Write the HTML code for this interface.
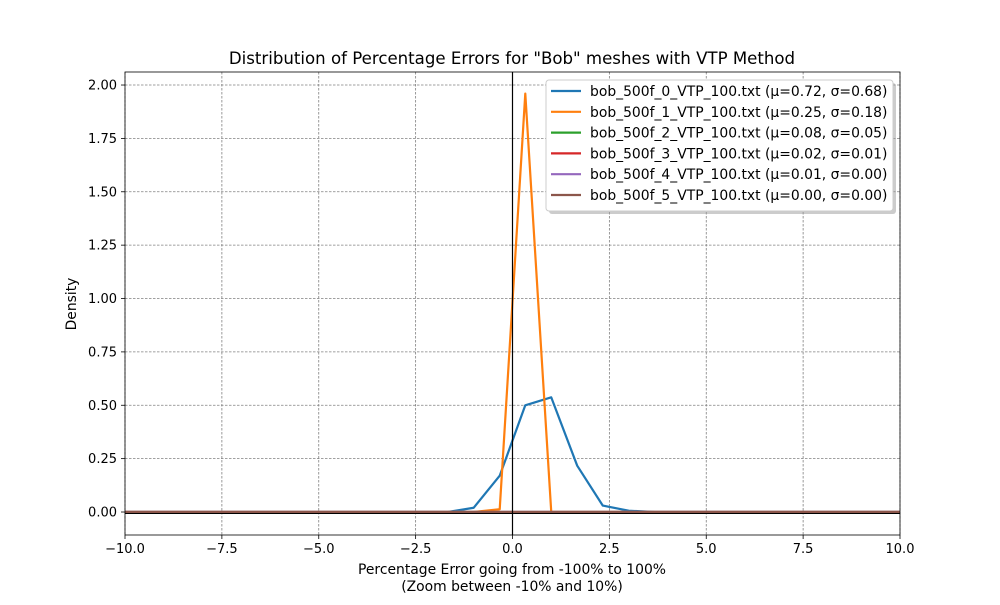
<!DOCTYPE html>
<html><head><meta charset="utf-8"><style>
body{margin:0;background:#fff;font-family:"Liberation Sans","DejaVu Sans",sans-serif;}
svg text{font-family:"DejaVu Sans","Liberation Sans",sans-serif;}
</style></head><body>
<svg id="c" width="1000" height="600" viewBox="0 0 1000 600" xmlns="http://www.w3.org/2000/svg"></svg>
<script>
const xs = [-10,-9.33,-8.67,-8,-7.33,-6.67,-6,-5.33,-4.67,-4,-3.33,-2.67,-2,-1.67,-1.0,-0.33,0.33,1.0,1.67,2.33,3.0,3.67,4.33,5,5.67,6.33,7,7.67,8.33,9,9.67,10];
const blueVals = [0,0,0,0,0,0,0,0,0,0,0,0,0,0,0.02,0.17,0.50,0.537,0.217,0.03,0.006,0,0,0,0,0,0,0,0,0,0,0];
const orangeX = [-10,-1.0,-0.33,0.33,1.0,10];
const orangeVals = [0,0,0.013,1.96,0,0];
const flatX = [-10,10];
const flatVals = [0,0];
const seriesNames = ["bob_500f_0_VTP_100.txt (μ=0.72, σ=0.68)","bob_500f_1_VTP_100.txt (μ=0.25, σ=0.18)","bob_500f_2_VTP_100.txt (μ=0.08, σ=0.05)","bob_500f_3_VTP_100.txt (μ=0.02, σ=0.01)","bob_500f_4_VTP_100.txt (μ=0.01, σ=0.00)","bob_500f_5_VTP_100.txt (μ=0.00, σ=0.00)"];
const colors = ["#1f77b4","#ff7f0e","#2ca02c","#d62728","#9467bd","#8c564b"];
const xTicks = [-10,-7.5,-5,-2.5,0,2.5,5,7.5,10];
const xTickLabels = ["−10.0","−7.5","−5.0","−2.5","0.0","2.5","5.0","7.5","10.0"];
const yTicks = [0,0.25,0.5,0.75,1,1.25,1.5,1.75,2];
const yTickLabels = ["0.00","0.25","0.50","0.75","1.00","1.25","1.50","1.75","2.00"];

const L=125,R=900,T=72,B=535, xmin=-10,xmax=10, ymin=-0.1077, ymax=2.061;
const X=v=>L+(v-xmin)/(xmax-xmin)*(R-L);
const Y=v=>B-(v-ymin)/(ymax-ymin)*(B-T);
const svg=document.getElementById('c');
const NS="http://www.w3.org/2000/svg";
function mk(tag,attrs,parent){const e=document.createElementNS(NS,tag);for(const k in attrs)e.setAttribute(k,attrs[k]);(parent||svg).appendChild(e);return e;}

xTicks.forEach((t,i)=>{
  const g=mk('line',{x1:X(t),x2:X(t),y1:T,y2:B,stroke:'#808080','stroke-width':0.8,'stroke-dasharray':'2.5,1.5'});
  
  
  mk('line',{x1:X(t),x2:X(t),y1:B,y2:B+4,stroke:'#000','stroke-width':0.8});
  const tx=mk('text',{x:X(t),y:B+18,'font-size':13,'text-anchor':'middle',fill:'#000'});
  tx.textContent=xTickLabels[i];
  
  
});
yTicks.forEach((t,i)=>{
  const g=mk('line',{x1:L,x2:R,y1:Y(t),y2:Y(t),stroke:'#808080','stroke-width':0.8,'stroke-dasharray':'2.5,1.5'});
  
  
  mk('line',{x1:L-4,x2:L,y1:Y(t),y2:Y(t),stroke:'#000','stroke-width':0.8});
  const tx=mk('text',{x:L-8,y:Y(t)+4.5,'font-size':13,'text-anchor':'end',fill:'#000'});
  tx.textContent=yTickLabels[i];
  
  
});

function line(xa,ya,color,name){
  const p=mk('polyline',{points:xa.map((x,i)=>X(x)+','+Y(ya[i])).join(' '),fill:'none',stroke:color,'stroke-width':2.2,'stroke-linejoin':'round'});
  
  
}
line(xs,blueVals,colors[0],'series-0-line');
line(orangeX,orangeVals,colors[1],'series-1-line');
for(let i=2;i<6;i++) line(flatX,flatVals,colors[i],'series-'+i+'-line');

const vl=mk('line',{x1:X(0),x2:X(0),y1:T,y2:B,stroke:'#000','stroke-width':1.2});


const hl=mk('line',{x1:L,x2:R,y1:Y(0)+1.5,y2:Y(0)+1.5,stroke:'#000','stroke-width':1});



const fr=mk('rect',{x:L,y:T,width:R-L,height:B-T,fill:'none',stroke:'#000','stroke-width':0.8});



const lg=mk('g',{});


mk('rect',{x:549,y:83,width:347,height:131,rx:3,fill:'#999',opacity:0.5},lg);
mk('rect',{x:546,y:80,width:347,height:131,rx:3,fill:'#fff',stroke:'#ccc','stroke-width':1},lg);
seriesNames.forEach((n,i)=>{
  const y=91+i*20.8;
  const e=mk('g',{},lg);
  
  
  mk('line',{x1:551,x2:581,y1:y,y2:y,stroke:colors[i],'stroke-width':2.2},e);
  const t=mk('text',{x:590,y:y+5,'font-size':13.9,fill:'#000'},e);
  t.textContent=n;
});

const ti=mk('text',{x:512,y:64,'font-size':16.6,'text-anchor':'middle',fill:'#000'});
ti.textContent='Distribution of Percentage Errors for "Bob" meshes with VTP Method';


const xl=mk('text',{x:512,y:574,'font-size':13.9,'text-anchor':'middle',fill:'#000'});
xl.textContent='Percentage Error going from -100% to 100%';


const xl2=mk('text',{x:512,y:591,'font-size':13.9,'text-anchor':'middle',fill:'#000'});
xl2.textContent='(Zoom between -10% and 10%)';


const yl=mk('text',{x:76,y:304,'font-size':13.9,'text-anchor':'middle',fill:'#000',transform:'rotate(-90 76 304)'});
yl.textContent='Density';


</script>
</body></html>
